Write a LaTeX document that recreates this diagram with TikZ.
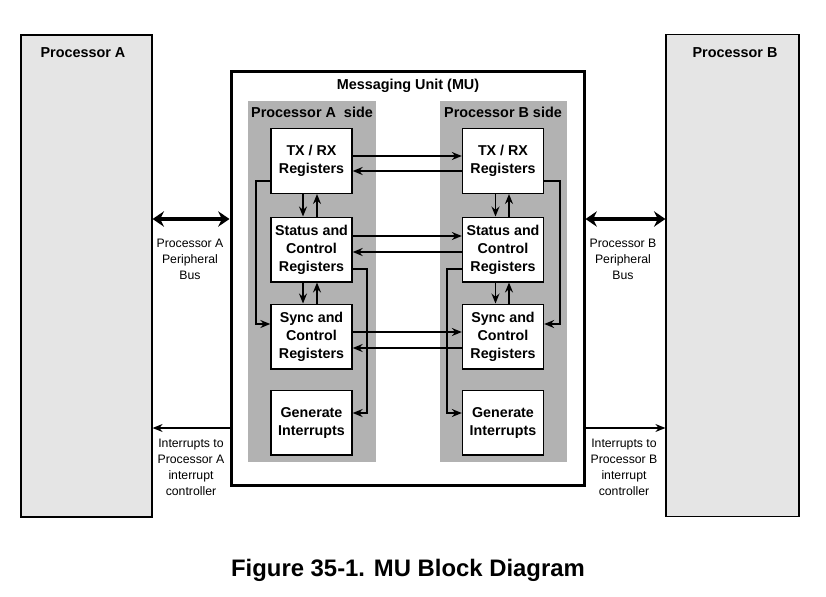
\documentclass[tikz,border=0pt]{standalone}
\usepackage{fontspec}
\setmainfont{Liberation Sans}
\usetikzlibrary{arrows.meta}
\tikzset{
	proc/.style={draw, line width=0.9pt, fill=gray!20, minimum width=98.25pt, minimum height=361.5pt, inner sep=0pt},
	side/.style={fill=gray!60, minimum width=96pt, minimum height=270.75pt, inner sep=0pt},
	reg/.style={draw, line width=1pt, fill=white, minimum width=60.75pt, minimum height=48.5pt, inner sep=0pt, align=center, font=\bfseries\fontsize{10.7}{13.5}\selectfont},
	head/.style={font=\bfseries\fontsize{10.8}{13}\selectfont},
	lab/.style={align=center, font=\fontsize{9.2}{12}\selectfont, anchor=north},
	link/.style={line width=1pt, -{Stealth[length=7.5pt, width=6pt, inset=2.5pt]}},
	bus/.style={line width=3pt, {Stealth[length=8.5pt, width=11.5pt]}-{Stealth[length=8.5pt, width=11.5pt]}}
}
\begin{document}
\begin{tikzpicture}[x=0.75pt, y=-0.75pt]
	\useasboundingbox (0,0) rectangle (826,597);
	\node[proc] (pa) at (86.5,276) {};
	\node[proc, minimum width=99.75pt] (pb) at (732.5,275.5) {};
	\node[head] (pat) at (83,53) {Processor A};
	\node[head] (pbt) at (735,53) {Processor B};
	\node[draw, line width=2.25pt, minimum width=264.75pt, minimum height=310.5pt] (mu) at (407.5,278) {};
	\node[head] (mut) at (408,86) {Messaging Unit (MU)};
	\node[side] (sa) at (312,281.5) {};
	\node[side, minimum width=95.25pt] (sb) at (503.5,281.5) {};
	\node[head] (sat) at (312,112) {Processor A\ \ side};
	\node[head] (sbt) at (503,112) {Processor B side};
	\node[reg] (txa) at (311.5,161) {TX / RX\\Registers};
	\node[reg] (sta) at (311.5,249.5) {Status and\\Control\\Registers};
	\node[reg] (sya) at (311.5,336.5) {Sync and\\Control\\Registers};
	\node[reg] (gea) at (311.5,422.5) {Generate\\Interrupts};
	\node[reg] (txb) at (503,161) {TX / RX\\Registers};
	\node[reg] (stb) at (503,249.5) {Status and\\Control\\Registers};
	\node[reg] (syb) at (503,336.5) {Sync and\\Control\\Registers};
	\node[reg] (geb) at (503,422.5) {Generate\\Interrupts};
	\draw[link] (txa.east |- 0,156) -- (txb.west |- 0,156);
	\draw[link] (txb.west |- 0,171) -- (txa.east |- 0,171);
	\draw[link] (sta.east |- 0,236) -- (stb.west |- 0,236);
	\draw[link] (stb.west |- 0,252) -- (sta.east |- 0,252);
	\draw[link] (sya.east |- 0,332) -- (syb.west |- 0,332);
	\draw[link] (syb.west |- 0,348) -- (sya.east |- 0,348);
	\draw[link] (txa.south -| 303,0) -- (sta.north -| 303,0);
	\draw[link] (sta.north -| 317,0) -- (txa.south -| 317,0);
	\draw[link] (sta.south -| 303,0) -- (sya.north -| 303,0);
	\draw[link] (sya.north -| 317,0) -- (sta.south -| 317,0);
	\draw[link] (txb.south -| 495.5,0) -- (stb.north -| 495.5,0);
	\draw[link] (stb.north -| 509,0) -- (txb.south -| 509,0);
	\draw[link] (stb.south -| 495.5,0) -- (syb.north -| 495.5,0);
	\draw[link] (syb.north -| 509,0) -- (stb.south -| 509,0);
	\draw[link] (txa.west |- 0,181) -- (256,181) -- (256,324) -- (sya.west |- 0,324);
	\draw[link] (sta.east |- 0,269) -- (367,269) -- (367,413) -- (gea.east |- 0,413);
	\draw[link] (txb.east |- 0,181) -- (560,181) -- (560,324) -- (syb.east |- 0,324);
	\draw[link] (stb.west |- 0,269) -- (447,269) -- (447,413) -- (geb.west |- 0,413);
	\draw[bus] (pa.east |- 0,219) -- (mu.west |- 0,219);
	\draw[bus] (mu.east |- 0,219) -- (pb.west |- 0,219);
	\draw[link] (mu.west |- 0,428) -- (pa.east |- 0,428);
	\draw[link] (mu.east |- 0,428) -- (pb.west |- 0,428);
	\node[lab] (busa) at (190,234) {Processor A\\Peripheral\\Bus};
	\node[lab] (busb) at (623,234) {Processor B\\Peripheral\\Bus};
	\node[lab] (inta) at (191,434) {Interrupts to\\Processor A\\interrupt\\controller};
	\node[lab] (intb) at (624,434) {Interrupts to\\Processor B\\interrupt\\controller};
	\node[font=\bfseries\fontsize{17.9}{20}\selectfont] (cap) at (408,570) {Figure 35-1. MU Block Diagram};
\end{tikzpicture}
\end{document}
